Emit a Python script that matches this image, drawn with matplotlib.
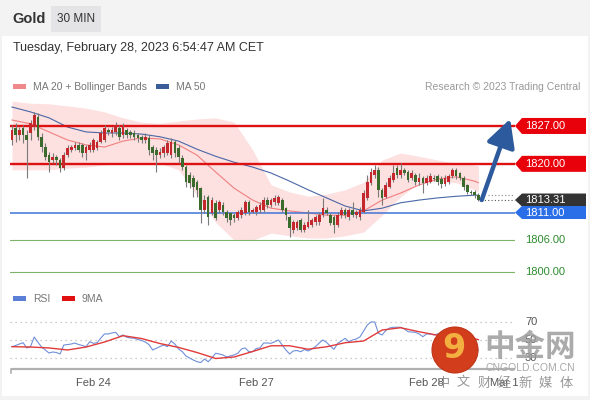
import matplotlib
matplotlib.use('Agg')
import matplotlib.pyplot as plt
import numpy as np
from matplotlib.patches import Polygon, Rectangle, Ellipse
from matplotlib.transforms import blended_transform_factory

plt.rcParams['font.family'] = ['Liberation Sans', 'DejaVu Sans']

# ---------------- data ----------------
opens = [1824.4, 1826.6, 1825.3, 1826.6, 1825.3, 1825.7, 1826.8, 1828.7, 1825.0, 1823.1,
         1821.6, 1820.7, 1821.3, 1820.7, 1819.2, 1821.6, 1822.6, 1822.9, 1823.5, 1823.5,
         1822.0, 1822.6, 1822.6, 1822.9, 1824.0, 1824.4, 1826.2, 1825.7, 1825.9, 1826.6,
         1825.3, 1826.2, 1825.9, 1825.7, 1825.3, 1825.0, 1824.4, 1824.8, 1823.1, 1822.6,
         1821.6, 1822.0, 1822.0, 1821.6, 1824.0, 1822.9, 1821.1, 1819.4, 1817.9, 1817.4,
         1816.6, 1815.5, 1811.5, 1813.9, 1810.9, 1812.8, 1811.5, 1812.4, 1811.1, 1810.9,
         1810.5, 1810.0, 1810.5, 1810.9, 1812.9, 1811.1, 1811.1, 1811.5, 1811.5, 1813.3,
         1812.4, 1812.9, 1812.8, 1813.3, 1811.8, 1810.2, 1807.8, 1808.1, 1809.6, 1807.8,
         1808.3, 1808.7, 1809.2, 1809.2, 1810.5, 1811.5, 1810.5, 1810.2, 1808.7, 1810.5,
         1811.5, 1810.2, 1811.5, 1810.5, 1810.2, 1811.1, 1813.7, 1816.5, 1817.9, 1818.9,
         1815.2, 1813.9, 1815.7, 1817.0, 1819.2, 1817.9, 1818.9, 1818.5, 1817.4, 1817.9,
         1816.6, 1817.4, 1816.5, 1816.6, 1817.4, 1817.7, 1817.2, 1816.3, 1816.6, 1817.7,
         1818.9, 1818.3, 1817.4, 1816.1, 1814.8, 1814.8, 1814.2]
highs = [1827.2, 1827.5, 1826.8, 1827.2, 1826.2, 1828.1, 1829.6, 1829.4, 1825.7, 1823.8,
         1822.2, 1822.0, 1821.6, 1821.1, 1822.2, 1823.5, 1823.5, 1824.0, 1824.0, 1823.8,
         1823.5, 1824.0, 1824.8, 1824.4, 1826.2, 1827.2, 1826.6, 1826.8, 1827.7, 1827.2,
         1827.5, 1826.6, 1826.2, 1826.2, 1825.7, 1825.3, 1825.7, 1825.3, 1823.5, 1823.1,
         1822.9, 1823.5, 1824.4, 1824.8, 1824.4, 1823.5, 1821.6, 1819.8, 1818.5, 1817.9,
         1817.0, 1815.7, 1814.2, 1814.2, 1813.9, 1813.3, 1813.3, 1812.9, 1811.5, 1811.1,
         1810.9, 1811.5, 1812.0, 1813.3, 1813.3, 1811.8, 1812.4, 1812.9, 1813.9, 1813.9,
         1813.7, 1814.2, 1814.2, 1813.7, 1812.0, 1810.5, 1809.6, 1809.6, 1810.0, 1809.2,
         1811.5, 1810.0, 1810.5, 1811.1, 1813.7, 1812.0, 1810.9, 1810.5, 1811.1, 1812.0,
         1811.8, 1811.8, 1812.9, 1811.5, 1812.0, 1815.2, 1817.9, 1819.2, 1819.8, 1819.4,
         1815.5, 1816.6, 1817.9, 1819.8, 1819.8, 1820.1, 1819.2, 1818.9, 1818.9, 1818.3,
         1818.3, 1817.7, 1817.9, 1818.3, 1817.9, 1818.1, 1817.7, 1817.9, 1818.1, 1819.2,
         1819.2, 1818.5, 1817.7, 1816.3, 1815.2, 1815.2, 1814.6]
lows = [1823.5, 1824.0, 1824.4, 1823.8, 1817.4, 1824.4, 1826.2, 1824.4, 1822.2, 1820.7,
        1818.5, 1820.1, 1819.8, 1818.5, 1818.9, 1821.3, 1822.2, 1822.6, 1822.2, 1821.3,
        1820.7, 1822.2, 1822.2, 1822.6, 1823.8, 1824.0, 1825.3, 1825.0, 1825.3, 1824.4,
        1824.8, 1824.8, 1824.8, 1824.4, 1824.0, 1823.8, 1823.8, 1821.6, 1820.7, 1818.5,
        1821.1, 1821.3, 1821.6, 1821.1, 1821.3, 1820.1, 1818.9, 1815.7, 1815.5, 1813.9,
        1813.9, 1809.1, 1810.9, 1808.7, 1810.5, 1809.6, 1810.9, 1810.5, 1809.2, 1808.7,
        1809.2, 1809.6, 1810.0, 1810.5, 1810.5, 1810.9, 1810.5, 1810.9, 1811.1, 1811.8,
        1812.0, 1812.4, 1812.4, 1811.1, 1809.6, 1806.5, 1807.2, 1807.8, 1807.4, 1807.4,
        1808.1, 1808.3, 1808.7, 1808.7, 1810.2, 1810.5, 1808.7, 1807.2, 1808.3, 1810.0,
        1810.0, 1809.6, 1810.2, 1810.0, 1809.6, 1810.9, 1813.3, 1816.1, 1817.4, 1813.9,
        1812.4, 1813.7, 1815.5, 1816.6, 1817.4, 1817.4, 1817.9, 1816.6, 1817.0, 1816.1,
        1816.1, 1814.6, 1816.1, 1816.5, 1816.8, 1816.1, 1815.5, 1815.9, 1816.3, 1817.4,
        1817.2, 1817.0, 1815.2, 1814.4, 1814.2, 1813.7, 1813.1]
closes = [1826.2, 1825.3, 1826.2, 1825.3, 1824.4, 1827.5, 1829.0, 1825.0, 1823.1, 1821.3,
          1820.3, 1821.3, 1820.7, 1819.2, 1821.6, 1822.9, 1823.1, 1823.5, 1822.6, 1822.0,
          1823.1, 1823.5, 1824.4, 1824.0, 1825.7, 1826.6, 1825.9, 1826.2, 1827.2, 1825.0,
          1826.8, 1825.3, 1825.3, 1825.0, 1824.8, 1824.4, 1825.0, 1822.6, 1822.0, 1821.6,
          1822.2, 1823.1, 1823.8, 1824.0, 1822.0, 1821.3, 1819.4, 1816.6, 1816.5, 1815.7,
          1815.2, 1811.5, 1813.3, 1810.2, 1813.3, 1810.0, 1812.9, 1811.1, 1810.0, 1809.6,
          1810.0, 1811.1, 1811.5, 1812.9, 1811.1, 1811.5, 1812.0, 1812.4, 1813.3, 1812.4,
          1813.3, 1813.7, 1813.9, 1811.5, 1810.5, 1808.1, 1809.2, 1809.2, 1807.8, 1808.7,
          1809.2, 1809.6, 1810.2, 1810.5, 1811.8, 1810.9, 1809.1, 1808.7, 1810.5, 1811.5,
          1810.5, 1811.5, 1810.5, 1811.1, 1811.5, 1814.6, 1816.6, 1818.5, 1818.9, 1815.2,
          1813.7, 1816.1, 1817.4, 1818.3, 1817.9, 1818.9, 1818.3, 1817.0, 1818.3, 1816.6,
          1817.4, 1816.5, 1817.4, 1817.7, 1817.2, 1816.6, 1816.3, 1817.4, 1817.7, 1818.9,
          1817.7, 1817.4, 1815.7, 1814.8, 1814.6, 1814.2, 1813.31]

# indicator samples (candle index -> value)
ind_idx = [0, 5, 10, 15, 20, 25, 30, 35, 40, 45, 50, 55, 60, 65, 70, 75, 80, 85, 90,
           95, 100, 105, 110, 115, 120, 125, 126]
bb_upper = [1831.6, 1831.2, 1831.1, 1830.7, 1830.3, 1829.6, 1828.5, 1827.7, 1827.5, 1827.9,
            1828.3, 1828.5, 1827.7, 1822.6, 1816.1, 1814.8, 1814.0, 1814.4, 1815.2, 1816.6,
            1820.7, 1822.0, 1821.4, 1820.7, 1820.1, 1819.8, 1819.6]
bb_lower = [1818.9, 1818.9, 1818.9, 1819.2, 1819.4, 1819.8, 1820.1, 1820.1, 1820.1, 1818.9,
            1814.2, 1809.2, 1805.9, 1805.9, 1807.2, 1806.7, 1806.3, 1806.3, 1806.7, 1807.4,
            1810.5, 1813.9, 1816.5, 1816.8, 1816.5, 1815.2, 1814.8]
ma20 = [1828.1, 1827.4, 1825.9, 1824.4, 1823.5, 1823.1, 1824.2, 1824.8, 1824.6, 1823.5,
        1821.6, 1818.5, 1815.5, 1813.3, 1811.8, 1811.3, 1810.9, 1810.5, 1810.5, 1811.3,
        1813.3, 1814.6, 1816.1, 1817.2, 1817.6, 1816.8, 1816.5]
ma50 = [1830.5, 1829.6, 1828.5, 1826.8, 1825.9, 1825.7, 1825.7, 1825.5, 1825.0, 1824.2,
        1822.7, 1821.4, 1820.3, 1819.4, 1818.3, 1816.8, 1815.2, 1813.7, 1812.2, 1811.3,
        1811.8, 1812.8, 1813.3, 1813.7, 1814.0, 1814.2, 1814.2]

rsi = [42.7, 44.0, 45.6, 47.0, 41.3, 42.7, 53.3, 47.5, 42.3, 39.1,
       35.8, 36.9, 36.3, 34.7, 44.5, 45.0, 45.6, 46.7, 45.0, 44.0,
       42.7, 48.1, 46.4, 47.0, 52.2, 56.6, 56.6, 57.7, 58.4, 53.6,
       55.5, 53.0, 52.2, 51.9, 50.5, 49.5, 47.8, 45.0, 39.1, 40.9,
       42.9, 44.5, 42.7, 48.9, 45.6, 40.2, 37.2, 32.5, 30.3, 28.1,
       26.3, 25.4, 29.2, 26.3, 30.3, 35.5, 34.7, 33.6, 31.4, 32.5,
       33.6, 35.5, 40.2, 41.3, 37.2, 37.2, 40.7, 41.3, 46.7, 46.7,
       46.4, 48.1, 50.0, 44.5, 39.1, 34.7, 38.0, 38.5, 37.2, 39.6,
       38.0, 40.2, 42.7, 46.7, 50.0, 47.3, 43.4, 39.8, 46.4, 48.9,
       51.9, 48.1, 50.0, 51.1, 53.3, 59.8, 66.4, 69.7, 69.7, 57.3,
       55.5, 60.4, 63.1, 63.9, 63.9, 63.9, 62.0, 59.1, 58.7, 58.4,
       56.6, 53.6, 56.6, 56.6, 55.5, 56.6, 57.3, 56.0, 57.0, 60.0,
       56.0, 53.0, 47.0, 43.0, 42.0, 41.0, 39.0]
rsi_ma9 = [42.7, 42.3, 41.3, 39.1, 42.3, 47.8, 54.7, 51.6, 46.1, 41.9,
           36.3, 29.8, 31.4, 37.4, 43.7, 43.7, 39.9, 42.6, 47.0, 48.9,
           60.9, 63.4, 59.0, 55.2, 54.1, 51.4, 50.3]

level_prices = [1827.00, 1820.00, 1811.00, 1806.00, 1800.00]
level_kinds = ['resist', 'resist', 'pivot', 'support', 'support']
last_price = 1813.31
arrow_target = 1828.3

day_ticks = [22, 66, 112, 133]
day_labels = ['Feb 24', 'Feb 27', 'Feb 28', 'Mar 1']
rsi_levels = [70, 50, 30]

# ---------------- figure ----------------
W, H = 590, 400
fig = plt.figure(figsize=(W / 100, H / 100), dpi=100)
fig.patch.set_facecolor('#f3f3f3')

def fx(px):
    return px / W

def fy(py):
    return 1 - py / H

fig.add_artist(Rectangle((fx(2), fy(396)), fx(586), 360 / H, transform=fig.transFigure,
                         facecolor='white', edgecolor='none', zorder=-1))
# header
fig.text(fx(12), fy(19), 'Gold', fontsize=10.5, fontweight='bold', color='#333333',
         va='center', ha='left')
fig.add_artist(Rectangle((fx(51), fy(32)), fx(50), 26 / H, transform=fig.transFigure,
                         facecolor='#e4e4e7', edgecolor='none', zorder=1))
fig.text(fx(76), fy(19), '30 MIN', fontsize=8.5, color='#333333', va='center', ha='center',
         zorder=2)
fig.text(fx(13), fy(48), 'Tuesday, February 28, 2023 6:54:47 AM CET', fontsize=9,
         color='#333333', va='center', ha='left')

# legend row
fig.add_artist(Rectangle((fx(13), fy(89)), fx(13), 5 / H, transform=fig.transFigure,
                         facecolor='#f08a8a', edgecolor='none'))
fig.text(fx(33), fy(86.5), 'MA 20 + Bollinger Bands', fontsize=7.5, color='#777777',
         va='center', ha='left')
fig.add_artist(Rectangle((fx(156), fy(89)), fx(13), 5 / H, transform=fig.transFigure,
                         facecolor='#3b5d9a', edgecolor='none'))
fig.text(fx(176), fy(86.5), 'MA 50', fontsize=7.5, color='#777777', va='center', ha='left')
fig.text(fx(580), fy(86.5), 'Research \u00a9 2023 Trading Central', fontsize=7.5,
         color='#999999', va='center', ha='right')

# ---------------- main chart ----------------
ymin, ymax = 1797.6, 1831.8
xmin, xmax = -0.54, 135.9
ax_h_px = 185
ax = fig.add_axes([fx(10), fy(285), fx(505), ax_h_px / H])
ax.set_xlim(xmin, xmax)
ax.set_ylim(ymin, ymax)
ax.axis('off')
ppu = ax_h_px / (ymax - ymin)

O = np.array(opens); Hh = np.array(highs); L = np.array(lows); C = np.array(closes)
x = np.arange(len(C))

ax.fill_between(ind_idx, bb_lower, bb_upper, color='#fde0e0', lw=0, zorder=1)
ax.plot(ind_idx, ma20, color='#f08080', lw=0.8, zorder=2)
ax.plot(ind_idx, ma50, color='#4a67a6', lw=0.8, zorder=2)

level_style = {'resist': ('#dd1111', 1.7), 'pivot': ('#3f74d6', 1.1),
               'support': ('#7cb56a', 0.8)}
for p, k in zip(level_prices, level_kinds):
    col, lw = level_style[k]
    ax.axhline(p, color=col, lw=lw, zorder=3)

up = C >= O
body_col = np.where(up, '#c4282c', '#3b6b2c')
ax.vlines(x, L, Hh, color='#7a7a7a', lw=0.8, zorder=4)
ax.bar(x, np.maximum(np.abs(C - O), 0.15), bottom=np.minimum(O, C), width=0.72,
       color=body_col, edgecolor='none', zorder=5)

# dotted extensions
n = len(C)
ax.plot([n - 0.2, xmax], [last_price, last_price], ls=(0, (1, 2)), color='#555555', lw=0.8,
        zorder=3)
ax.plot([n + 1.5, xmax], [ma50[-1], ma50[-1]], ls=(0, (1, 2)), color='#888888', lw=0.8,
        zorder=3)

# projection arrow
ax.annotate('', xy=(n - 1 + 8.6, arrow_target), xytext=(n - 1 + 0.9, last_price),
            arrowprops=dict(arrowstyle='-|>,head_width=0.55,head_length=1.05',
                            color='#2d5a9c', lw=3.2, shrinkA=0, shrinkB=0,
                            mutation_scale=16),
            annotation_clip=False, zorder=6)

trans = blended_transform_factory(ax.transAxes, ax.transData)

def tag(price, color, text, hpx):
    hh = hpx / ppu
    x0 = 1.0
    x1 = 1.0 + 7 / 505
    x2 = 1.0 + 71 / 505
    poly = Polygon([(x0, price), (x1, price + hh), (x2, price + hh), (x2, price - hh),
                    (x1, price - hh)], closed=True, transform=trans, facecolor=color,
                   edgecolor='none', clip_on=False, zorder=7)
    ax.add_patch(poly)
    ax.text(1.0 + 30 / 505, price, text, transform=trans, color='white', fontsize=8,
            ha='center', va='center', clip_on=False, zorder=8)

for p, k in zip(level_prices, level_kinds):
    if k == 'resist':
        tag(p, '#e8000b', f'{p:.2f}', 8)
tag(last_price, '#333333', f'{last_price:.2f}', 6.5)
for p, k in zip(level_prices, level_kinds):
    if k == 'pivot':
        tag(p, '#2a6ee8', f'{p:.2f}', 6.5)
    elif k == 'support':
        ax.text(1.0 + 30 / 505, p, f'{p:.2f}', transform=trans, color='#2e8b2e', fontsize=8,
                ha='center', va='center', clip_on=False)

# ---------------- RSI panel ----------------
fig.add_artist(Rectangle((fx(13), fy(301)), fx(13), 5 / H, transform=fig.transFigure,
                         facecolor='#5b7fd6', edgecolor='none'))
fig.text(fx(33), fy(298.5), 'RSI', fontsize=7.5, color='#777777', va='center', ha='left')
fig.add_artist(Rectangle((fx(62), fy(301)), fx(13), 5 / H, transform=fig.transFigure,
                         facecolor='#e01010', edgecolor='none'))
fig.text(fx(82), fy(298.5), '9MA', fontsize=7.5, color='#777777', va='center', ha='left')

rmin, rmax = 18.3, 93.7
ax2 = fig.add_axes([fx(10), fy(369), fx(505), 69 / H])
ax2.set_xlim(xmin, xmax)
ax2.set_ylim(rmin, rmax)
ax2.axis('off')
for lv in rsi_levels:
    ax2.axhline(lv, color='#bbbbbb', ls=(0, (1, 3)), lw=0.9, zorder=1)
ax2.plot(x, rsi, color='#6f8fd8', lw=0.8, zorder=2)
ax2.plot(ind_idx, rsi_ma9, color='#e03a3a', lw=1.0, zorder=3)
ax2.plot([0.002, 1.0], [0, 0], transform=ax2.transAxes, color='#b0b0b0', lw=1.6,
         clip_on=False, solid_capstyle='butt')
ax2.plot([0.002, 0.002], [0, -4 / 69], transform=ax2.transAxes, color='#b0b0b0', lw=1.2,
         clip_on=False)
trans2 = blended_transform_factory(ax2.transAxes, ax2.transData)
for lv in rsi_levels:
    ax2.text(1.0 + 10 / 505, lv, str(lv), transform=trans2, fontsize=8, color='#555555',
             ha='left', va='center', clip_on=False)
transx = blended_transform_factory(ax2.transData, ax2.transAxes)
for t, lab in zip(day_ticks, day_labels):
    ax2.text(t, -14 / 69, lab, transform=transx, fontsize=8, color='#555555',
             ha='center', va='center', clip_on=False)

# ---------------- watermark ----------------
fig.add_artist(Ellipse((fx(455), fy(350)), 46 / W, 46 / H, transform=fig.transFigure,
                       facecolor='#d23e1c', edgecolor='#bf3316', lw=0.8, zorder=10))
fig.text(fx(454), fy(349), '9', fontsize=24, fontweight='bold', color='#f3b040',
         ha='center', va='center', family='DejaVu Sans', zorder=11)
fig.text(fx(530), fy(347), '中金网', fontsize=22, fontweight='bold', color='#9c9c9c',
         alpha=0.85, ha='center', va='center', family=['Noto Sans CJK SC'], zorder=10)
fig.text(fx(530), fy(368), 'CNGOLD.COM.CN', fontsize=7.5, color='#a8a8a8',
         ha='center', va='center', zorder=10)
wm_chars = ['中', '文', '财', '经', '新', '媒', '体']
for k, ch in enumerate(wm_chars):
    fig.text(fx(443 + k * 20.5), fy(383), ch, fontsize=9.5, color='#8c8c8c', alpha=0.9,
             ha='center', va='center', family=['Noto Sans CJK SC'], zorder=10)

fig.savefig('out.png', dpi=100, facecolor=fig.get_facecolor())
